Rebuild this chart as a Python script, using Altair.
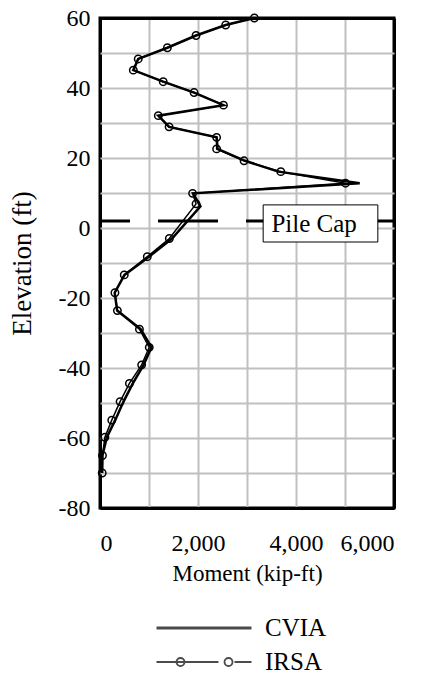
import altair as alt
import pandas as pd

# ---- data ----
irsa_elev = [60, 58, 55, 51.5, 48.3, 45.1, 41.8, 38.7, 35.1, 32.1, 28.9, 25.9, 22.6, 19.2, 16.1, 12.8,
             9.9, 6.9, -3.0, -8.2, -13.4, -18.5, -23.6, -28.9, -34.1, -39.1, -44.4, -49.6, -54.9,
             -59.8, -65.0, -70.0]
irsa_moment = [3150, 2565, 1960, 1375, 780, 680, 1290, 1920, 2520, 1190, 1410, 2380, 2380, 2940, 3690,
               5010, 1890, 1960, 1415, 965, 495, 305, 355, 805, 1005, 850, 600, 410, 240, 100, 50, 45]

cvia_elev = [60, 58, 55, 51.5, 48.3, 45.1, 41.8, 38.7, 35.1, 32.1, 28.9, 25.9, 22.6, 19.2, 16.1, 12.8,
             9.9, 6.2, -3.0, -8.2, -13.4, -18.5, -23.6, -28.9, -34.1, -39.1, -44.4, -49.6, -54.9,
             -59.8, -65.0, -70.0]
cvia_moment = [3150, 2565, 1960, 1375, 780, 680, 1290, 1920, 2520, 1190, 1410, 2380, 2400, 2960, 3640,
               5300, 1900, 2050, 1470, 1000, 500, 300, 350, 830, 1050, 890, 670, 480, 310, 140, 50, 45]

series_names = ["CVIA", "IRSA"]
x_ticks = [0, 1000, 2000, 3000, 4000, 5000, 6000]
y_ticks = [-80, -70, -60, -50, -40, -30, -20, -10, 0, 10, 20, 30, 40, 50, 60]

pile_cap_elev = [2.0]
pile_cap_text = ["Pile Cap"]
pile_cap_text_x = [4370]
pile_cap_text_y = [-1.0]
box_x = [3330]
box_x2 = [5670]
box_y = [6.6]
box_y2 = [-4.0]

# ---- tables ----
rows = []
for i, (e, m) in enumerate(zip(cvia_elev, cvia_moment)):
    rows.append({"series": "CVIA", "idx": i, "elev": e, "moment": m})
for i, (e, m) in enumerate(zip(irsa_elev, irsa_moment)):
    rows.append({"series": "IRSA", "idx": i, "elev": e, "moment": m})
df = pd.DataFrame(rows)
cvia_df = df[df.series == "CVIA"]
irsa_df = df[df.series == "IRSA"]

cap_df = pd.DataFrame({"elev": pile_cap_elev})
text_df = pd.DataFrame({"moment": pile_cap_text_x, "elev": pile_cap_text_y, "label": pile_cap_text})
box_df = pd.DataFrame({"moment": box_x, "moment2": box_x2, "elev": box_y, "elev2": box_y2})
legend_df = pd.DataFrame({"series": series_names, "moment": [0, 0], "elev": [0, 0]})

FONT = "Liberation Serif"

x_edge = "datum.value == 0 || datum.value == 6000"
y_edge = "datum.value == -80 || datum.value == 60"

X = alt.X("moment:Q",
          scale=alt.Scale(domain=[0, 6000], nice=False, zero=False),
          axis=alt.Axis(values=x_ticks, title="Moment (kip-ft)",
                        labelExpr="datum.value % 2000 == 0 ? format(datum.value, ',') : ''",
                        labelBaseline="alphabetic", labelPadding=42,
                        labelFont=FONT, titleFont=FONT,
                        titleX=147, titleY=72, titleBaseline="alphabetic",
                        titleFontSize=23, labelFontSize=24,
                        gridColor={"condition": {"test": x_edge, "value": "black"}, "value": "#c0c0c0"},
                        gridWidth={"condition": {"test": x_edge, "value": 3}, "value": 2}))
Y = alt.Y("elev:Q",
          scale=alt.Scale(domain=[-80, 60], nice=False, zero=False),
          axis=alt.Axis(values=y_ticks, title="Elevation (ft)",
                        labelExpr="datum.value % 20 == 0 ? '' + datum.value : ''",
                        labelFont=FONT, titleFont=FONT,
                        labelPadding=10, titleX=-70, titleY=245, titleAngle=270,
                        titleBaseline="alphabetic", titleFontSize=27, labelFontSize=24,
                        gridColor={"condition": {"test": y_edge, "value": "black"}, "value": "#c0c0c0"},
                        gridWidth={"condition": {"test": y_edge, "value": 3}, "value": 2}))

cap_rule = alt.Chart(cap_df).mark_rule(color="black", strokeWidth=3, strokeDash=[60, 28]).encode(y=Y)

box = alt.Chart(box_df).mark_rect(fill="white", stroke="black", strokeWidth=1).encode(
    x=X, x2="moment2:Q", y=Y, y2="elev2:Q")

cap_text = alt.Chart(text_df).mark_text(font=FONT, fontSize=25, color="black",
                                        align="center", baseline="alphabetic").encode(
    x=X, y=Y, text="label:N")

irsa_line = alt.Chart(irsa_df).mark_line(color="black", strokeWidth=1.5).encode(
    x=X, y=Y, order=alt.Order("idx:Q"))
irsa_pts = alt.Chart(irsa_df).mark_point(shape="circle", filled=False, color="black",
                                         size=55, strokeWidth=1.5, opacity=1).encode(x=X, y=Y)
cvia_line = alt.Chart(cvia_df).mark_line(color="black", strokeWidth=2.5).encode(
    x=X, y=Y, order=alt.Order("idx:Q"))

cvia_path = "M-1,0H1"
irsa_path = ("M-1,0H0.305M0.642,0H1"
             "M-0.411,0A0.084,0.084,0,1,1,-0.579,0A0.084,0.084,0,1,1,-0.411,0Z"
             "M0.6,0A0.084,0.084,0,1,1,0.432,0A0.084,0.084,0,1,1,0.6,0Z")

legend_layer = alt.Chart(legend_df).transform_filter("false").mark_point(
    filled=False, color="black").encode(
    x=X, y=Y,
    shape=alt.Shape("series:N",
                    scale=alt.Scale(domain=series_names, range=[cvia_path, irsa_path]),
                    legend=alt.Legend(orient="none", legendX=55, legendY=599, title=None,
                                      direction="vertical", symbolSize=9025,
                                      symbolStrokeColor="black", symbolFillColor="transparent",
                                      labelFont=FONT, labelFontSize=25, labelColor="black",
                                      labelOffset=12, clipHeight=22, rowPadding=9,
                                      padding=0, symbolOffset=0)),
    strokeWidth=alt.StrokeWidth("series:N",
                                scale=alt.Scale(domain=series_names, range=[3, 1.8])))

chart = alt.layer(cap_rule, box, cap_text, irsa_line, irsa_pts, cvia_line, legend_layer).properties(
    width=294, height=490,
    background="white",
    autosize=alt.AutoSizeParams(type="none"),
    padding={"left": 92, "top": 10, "right": 20, "bottom": 165},
).configure(font=FONT).configure_view(stroke="black", strokeWidth=3).configure_axis(
    domain=False, ticks=False, grid=True,
    labelFont=FONT, titleFont=FONT, labelColor="black", titleColor="black",
    titleFontWeight="normal"
)

chart.save("out.html", embed_options={"renderer": "svg", "actions": False})
